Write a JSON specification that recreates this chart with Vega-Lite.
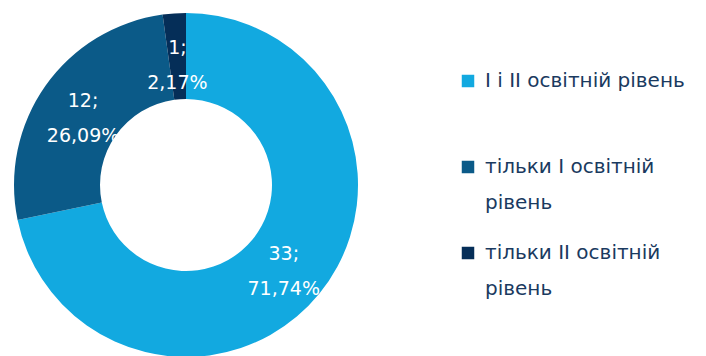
{
  "$schema": "https://vega.github.io/schema/vega-lite/v6.json",
  "width": 372,
  "height": 342,
  "autosize": {"type": "none"},
  "padding": {"top": 14, "left": 0, "right": 334, "bottom": 0},
  "background": "white",
  "config": {
    "view": {"stroke": null},
    "style": {"guide-label": {"lineHeight": 36}},
    "legend": {
      "orient": "none",
      "legendX": 458,
      "legendY": 57,
      "padding": 0,
      "symbolType": "square",
      "symbolSize": 156,
      "symbolStrokeWidth": 0,
      "symbolOpacity": 1,
      "labelFont": "DejaVu Sans",
      "labelFontSize": 20,
      "labelFontWeight": "normal",
      "labelColor": "#1a3a60",
      "labelOffset": 7,
      "labelLimit": 0,
      "labelBaseline": "middle",
      "rowPadding": 30
    }
  },
  "data": {
    "values": [
      {"level": "І і ІІ освітній рівень", "count": 33, "lab": "33;\n71,74%", "ord": 1},
      {"level": "тільки І освітній рівень", "count": 12, "lab": "12;\n26,09%", "ord": 2},
      {"level": "тільки ІІ освітній рівень", "count": 1, "lab": "1;\n2,17%", "ord": 3}
    ]
  },
  "encoding": {
    "theta": {"field": "count", "type": "quantitative", "stack": true},
    "order": {"field": "ord", "type": "quantitative"}
  },
  "layer": [
    {
      "mark": {"type": "arc", "innerRadius": 86, "outerRadius": 172},
      "encoding": {
        "color": {
          "field": "level",
          "type": "nominal",
          "scale": {
            "domain": ["І і ІІ освітній рівень", "тільки І освітній рівень", "тільки ІІ освітній рівень"],
            "range": ["#12a9e0", "#0b5a88", "#052e58"]
          },
          "legend": {
            "title": null,
            "labelExpr": "datum.label == 'І і ІІ освітній рівень' ? [datum.label, ' '] : [replace(datum.label, ' рівень', ''), 'рівень']"
          }
        }
      }
    },
    {
      "mark": {"type": "text", "radius": 126, "fontSize": 19, "font": "DejaVu Sans", "lineBreak": "\n", "lineHeight": 35, "baseline": "middle", "dy": -11},
      "encoding": {
        "detail": {"field": "level", "type": "nominal"},
        "text": {"field": "lab"},
        "color": {"value": "white"}
      }
    }
  ]
}
